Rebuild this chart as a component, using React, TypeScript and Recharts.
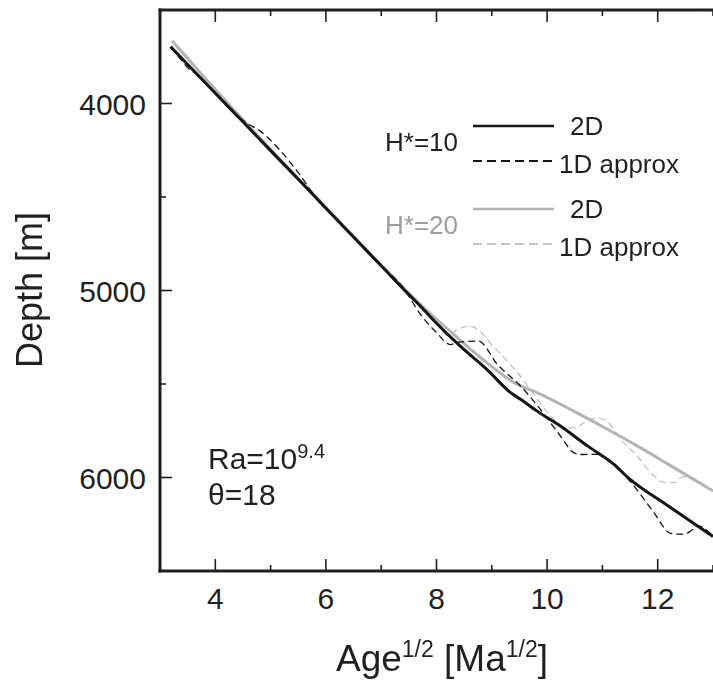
import { Legend, Line, LineChart, XAxis, YAxis } from "recharts";

// axis ticks
const xTicks = [4, 5, 6, 7, 8, 9, 10, 11, 12, 13];
const xLabelled = [4, 6, 8, 10, 12];
const yTicks = [4000, 4500, 5000, 5500, 6000];
const yLabelled = [4000, 5000, 6000];
const xDomain: [number, number] = [3, 13];
const yDomain: [number, number] = [3500, 6500];

// [age^1/2, depth]
const h10TwoD: [number, number][] = [
  [3.19, 3696], [3.6, 3822], [4.0, 3945], [4.5, 4098], [5.0, 4252],
  [5.5, 4405], [6.0, 4560], [6.5, 4714], [7.0, 4868], [7.5, 5022],
  [7.71, 5084], [8.0, 5175], [8.43, 5298], [8.91, 5422], [9.34, 5546],
  [9.52, 5582], [9.82, 5645], [10.24, 5725], [10.73, 5831], [11.21, 5930],
  [11.48, 6005], [12.18, 6150], [12.72, 6259], [13.0, 6315],
];
const h10OneD: [number, number][] = [
  [3.19, 3700], [3.36, 3758], [3.51, 3811], [3.7, 3852], [4.0, 3945],
  [4.3, 4040], [4.57, 4105], [4.8, 4145], [5.17, 4250], [5.5, 4370],
  [5.89, 4530], [6.2, 4620], [6.5, 4712], [7.0, 4866], [7.4, 4985],
  [7.71, 5128], [8.0, 5225], [8.25, 5289], [8.4, 5276], [8.76, 5271],
  [9.1, 5395], [9.52, 5511], [9.88, 5636], [10.24, 5778], [10.48, 5867],
  [10.6, 5877], [10.91, 5876], [11.09, 5903], [11.3, 5955], [11.5, 6020],
  [11.93, 6187], [12.2, 6294], [12.3, 6303], [12.48, 6303], [12.6, 6285],
  [12.72, 6259], [13.0, 6315],
];
const h20TwoD: [number, number][] = [
  [3.22, 3664], [4.0, 3925], [5.0, 4245], [6.0, 4555], [7.0, 4865],
  [7.71, 5075], [8.31, 5235], [8.91, 5386], [9.46, 5502], [9.82, 5546],
  [10.42, 5636], [11.09, 5742], [11.63, 5831], [12.24, 5938], [13.0, 6072],
];
const h20OneD: [number, number][] = [
  [3.22, 3668], [3.7, 3822], [4.2, 3988], [4.6, 4115], [5.0, 4242],
  [5.5, 4400], [6.0, 4556], [6.5, 4712], [7.0, 4866], [7.4, 4990],
  [7.71, 5090], [8.0, 5180], [8.2, 5240], [8.4, 5205], [8.6, 5190],
  [8.8, 5222], [9.0, 5290], [9.21, 5355], [9.52, 5460], [9.82, 5580],
  [10.12, 5690], [10.35, 5735], [10.5, 5735], [10.7, 5700], [10.9, 5682],
  [11.05, 5692], [11.33, 5796], [11.63, 5885], [11.93, 5991], [12.12, 6027],
  [12.3, 6027], [12.45, 5995], [12.6, 6001], [13.0, 6072],
];

const legendGroups = ["H*=10", "H*=20"];
const legendLabels = ["2D", "1D approx"];

const W = 713;
const H = 683;
const TOP = 10;
const LEFT = 160;
const FONT = '"Liberation Sans", Arial, Helvetica, sans-serif';
const INK = "#231f20";
const BLACK = "#151515";
const GREY = "#b4b4b4";
const GREY_DASH = "#c2c2c2";
const GREY_TEXT = "#9d9d9d";

const rows = (pts: [number, number][]) => pts.map(([age, depth]) => ({ age, depth }));

function BottomTick(props: any) {
  const { x, y, payload } = props;
  const major = xLabelled.includes(payload.value);
  return (
    <g>
      <line x1={x} x2={x} y1={y} y2={y - (major ? 12 : 6)} stroke={INK} strokeWidth={1.6} />
      {major && (
        <text x={x} y={y + 38} textAnchor="middle" fontSize={30} fontFamily={FONT} fill={INK}>
          {payload.value}
        </text>
      )}
    </g>
  );
}

function LeftTick(props: any) {
  const { x, y, payload } = props;
  const major = yLabelled.includes(payload.value);
  return (
    <g>
      <line x1={x} x2={x + (major ? 12 : 6)} y1={y} y2={y} stroke={INK} strokeWidth={1.6} />
      {major && (
        <text x={x - 14} y={y + 11} textAnchor="end" fontSize={30} fontFamily={FONT} fill={INK}>
          {payload.value}
        </text>
      )}
    </g>
  );
}

// top frame of the box with its inward ticks, same x mapping as the plot area
function TopFrame() {
  const px = (v: number) => LEFT + ((v - xDomain[0]) / (xDomain[1] - xDomain[0])) * (W - LEFT);
  return (
    <g>
      <rect x={LEFT - 1.5} y={TOP - 1.5} width={W - LEFT + 1.5} height={3} fill={INK} />
      {xTicks.map((v) => (
        <rect
          key={v}
          x={px(v) - 0.8}
          y={TOP}
          width={1.6}
          height={xLabelled.includes(v) ? 12 : 6}
          fill={INK}
        />
      ))}
    </g>
  );
}

function Overlay() {
  return (
    <svg width={W} height={H} style={{ display: "block", overflow: "visible" }} fontFamily={FONT}>
      <TopFrame />
      <g fontSize={26}>
        <text x={385} y={151} fill={INK}>{legendGroups[0]}</text>
        <line x1={473} x2={554} y1={126} y2={126} stroke={BLACK} strokeWidth={2.5} />
        <text x={570} y={135} fill={INK}>{legendLabels[0]}</text>
        <line x1={473} x2={554} y1={161} y2={161} stroke={BLACK} strokeWidth={2} strokeDasharray="9 5" />
        <text x={559} y={173} fill={INK}>{legendLabels[1]}</text>

        <text x={385} y={234} fill={GREY_TEXT}>{legendGroups[1]}</text>
        <line x1={473} x2={554} y1={209} y2={209} stroke={GREY} strokeWidth={2.5} />
        <text x={570} y={218} fill={INK}>{legendLabels[0]}</text>
        <line x1={473} x2={554} y1={244} y2={244} stroke={GREY_DASH} strokeWidth={2} strokeDasharray="9 5" />
        <text x={559} y={256} fill={INK}>{legendLabels[1]}</text>
      </g>

      <text x={208} y={469} fontSize={30} fill={INK}>
        Ra=10<tspan fontSize={20} dy={-11}>9.4</tspan>
      </text>
      <text x={208} y={505} fontSize={30} fill={INK}>θ=18</text>

      <text x={442} y={671} fontSize={37} textAnchor="middle" fill={INK}>
        Age<tspan fontSize={23} dy={-14}>1/2</tspan>
        <tspan dy={14}> [Ma</tspan>
        <tspan fontSize={23} dy={-14}>1/2</tspan>
        <tspan dy={14}>]</tspan>
      </text>
      <text transform="translate(42,290) rotate(-90)" fontSize={36} textAnchor="middle" fill={INK}>
        Depth [m]
      </text>
    </svg>
  );
}

export default function App() {
  const axisLine = { stroke: INK, strokeWidth: 3, strokeLinecap: "square" as const };
  return (
    <div style={{ position: "fixed", left: 0, top: 0, width: W, height: H, background: "#fff" }}>
      <LineChart width={W} height={H} margin={{ top: TOP, right: 0, bottom: 0, left: 0 }}>
        <XAxis
          type="number"
          dataKey="age"
          domain={xDomain}
          ticks={xTicks}
          interval={0}
          allowDataOverflow
          height={112}
          tickSize={0}
          tickMargin={0}
          tickLine={false}
          axisLine={axisLine}
          tick={<BottomTick />}
        />
        <YAxis
          type="number"
          dataKey="depth"
          domain={yDomain}
          reversed
          ticks={yTicks}
          interval={0}
          allowDataOverflow
          width={LEFT}
          tickSize={0}
          tickMargin={0}
          tickLine={false}
          axisLine={axisLine}
          tick={<LeftTick />}
        />
        <Line
          data={rows(h20OneD)}
          dataKey="depth"
          type="monotone"
          stroke={GREY_DASH}
          strokeWidth={1.3}
          strokeDasharray="7 4"
          dot={false}
          isAnimationActive={false}
        />
        <Line
          data={rows(h20TwoD)}
          dataKey="depth"
          type="monotone"
          stroke={GREY}
          strokeWidth={3}
          dot={false}
          isAnimationActive={false}
        />
        <Line
          data={rows(h10OneD)}
          dataKey="depth"
          type="monotone"
          stroke={BLACK}
          strokeWidth={1.3}
          strokeDasharray="7 4"
          dot={false}
          isAnimationActive={false}
        />
        <Line
          data={rows(h10TwoD)}
          dataKey="depth"
          type="monotone"
          stroke={BLACK}
          strokeWidth={3}
          dot={false}
          isAnimationActive={false}
        />
        <Legend
          layout="horizontal"
          verticalAlign="middle"
          align="center"
          content={() => <Overlay />}
          wrapperStyle={{ left: 0, top: 0, width: W, height: H, pointerEvents: "none" }}
        />
      </LineChart>
    </div>
  );
}
